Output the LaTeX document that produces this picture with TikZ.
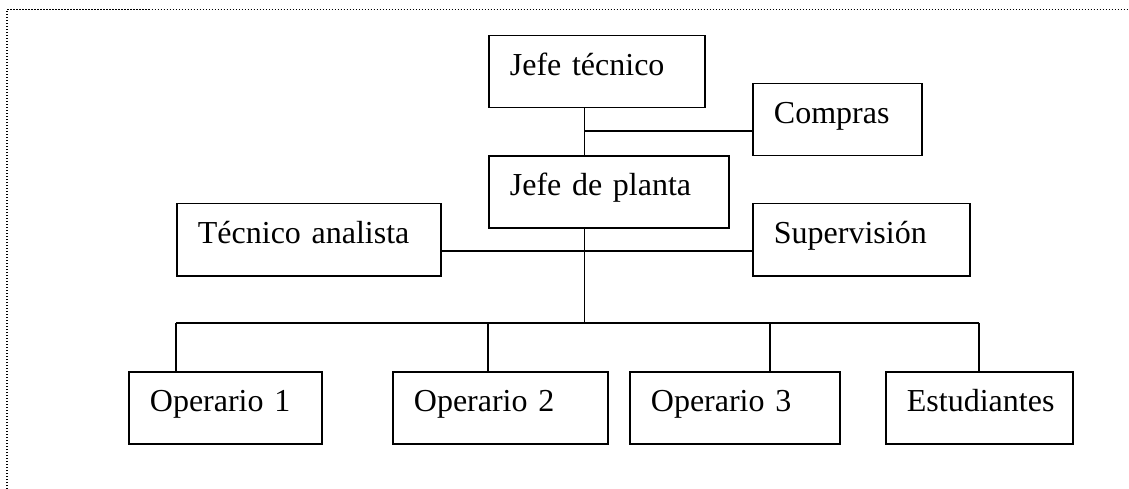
\documentclass[tikz,border=0pt]{standalone}
\usepackage{fontspec}
\setmainfont{Liberation Serif}
\usepackage{tikz}
\usetikzlibrary{calc}

\tikzset{
	caja/.style={draw,line width=1.8pt,anchor=north west,align=left,
		inner xsep=21pt,inner ysep=0pt,text height=40pt,text depth=32pt,
		font=\fontsize{32}{38}\selectfont},
	linea/.style={line width=1.8pt},
	marco/.style={line width=1.4pt,dash pattern=on 1.4pt off 1.6pt}
}

\begin{document}
\begin{tikzpicture}[x=1pt,y=-1pt]
		\useasboundingbox (0,0) rectangle (1129,489);
		\draw[marco] (7,489) -- (7,9.5) -- (1129,9.5);
		% cajas
		\node[caja,text width=174pt] (jefeTec) at (488,34.7) {Jefe técnico};
		\node[caja,text width=127pt] (compras) at (752,82.7) {Compras};
		\node[caja,text width=198pt] (jefePlanta) at (488,155) {Jefe de planta};
		\node[caja,text width=222pt] (tecnico) at (176,202.7) {Técnico analista};
		\node[caja,text width=175pt] (superv) at (752,202.7) {Supervisión};
		\node[caja,text width=151pt] (op1) at (128,370.7) {Operario 1};
		\node[caja,text width=173pt] (op2) at (392,370.7) {Operario 2};
		\node[caja,text width=168pt] (op3) at (629,370.7) {Operario 3};
		\node[caja,text width=145pt] (estud) at (885,370.7) {Estudiantes};
		% puntos de union
		\coordinate (j1) at (584.5,130.7);
		\coordinate (j2) at (584.5,250.7);
		\coordinate (bus) at (584.5,322.7);
		\coordinate (d1) at (176,322.7);
		\coordinate (d2) at (488,322.7);
		\coordinate (d3) at (770,322.7);
		\coordinate (d4) at (979,322.7);
		% lineas
		\draw[linea] (jefeTec.south -| j1) -- (jefePlanta.north -| j1);
		\draw[linea] (j1) -- (compras.west |- j1);
		\draw[linea] (tecnico.east |- j2) -- (superv.west |- j2);
		\draw[linea] (jefePlanta.south -| bus) -- (bus);
		\draw[linea] (d1) -- (d4);
		\draw[linea] (d1) -- (op1.north -| d1);
		\draw[linea] (d2) -- (op2.north -| d2);
		\draw[linea] (d3) -- (op3.north -| d3);
		\draw[linea] (d4) -- (estud.north -| d4);
	\end{tikzpicture}
\end{document}
